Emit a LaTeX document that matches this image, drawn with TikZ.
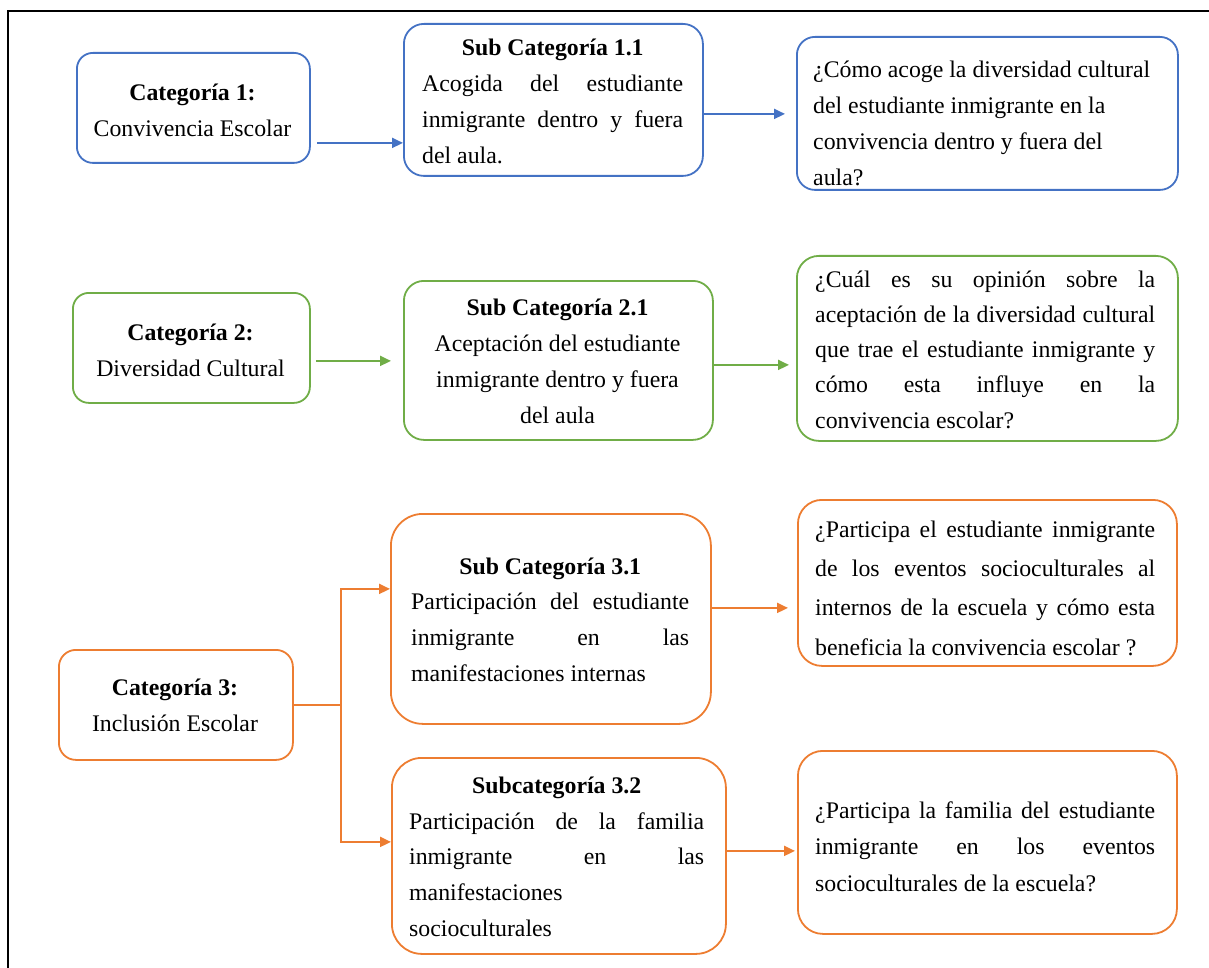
\documentclass[tikz,border=0pt]{standalone}
\usepackage{fontspec}
\setmainfont{Liberation Serif}
\usetikzlibrary{arrows.meta}
\definecolor{cblue}{RGB}{68,114,196}
\definecolor{cgreen}{RGB}{112,173,71}
\definecolor{corange}{RGB}{237,125,49}
\newcommand\fst{\rule{0pt}{17pt}}
\newcommand\jst{\spaceskip=0pt \xspaceskip=0pt \rightskip=0pt \leftskip=0pt \parfillskip=0pt plus 1fil\relax}
\newcommand\cnt{\spaceskip=0pt \xspaceskip=0pt \centering}
\newcommand\rgd{\spaceskip=0pt \xspaceskip=0pt \raggedright}
\hbadness=10000
\hyphenpenalty=10000
\exhyphenpenalty=10000
\begin{document}
\begin{tikzpicture}[x=1pt,y=-1pt,
  box/.style={draw, line width=1.8pt, rounded corners=#1, inner sep=0pt, anchor=north west},
  box/.default=18pt,
  txt/.style={inner sep=0pt, anchor=north west, text width=#1},
  fnt/.style={font=\fontsize{23.8}{#1}\selectfont},
  arr/.style={line width=2pt, -{Triangle[length=11pt,width=10pt]}},
  lin/.style={line width=2pt}
]
\useasboundingbox (0,0) rectangle (1209,968);
% frame
\draw[line width=2.5pt] (8,968) -- (8,11) -- (1209,11);

% ---------- row 1 ----------
\node[box=16pt, draw=cblue, minimum width=233pt, minimum height=110pt] (c1) at (76,52) {};
\node[box=20pt, draw=cblue, minimum width=299pt, minimum height=152pt] (s11) at (403,23) {};
\node[box=18pt, draw=cblue, minimum width=381pt, minimum height=153pt] (q1) at (796,36) {};

\node[txt=220pt, fnt=36, anchor=north] (c1t) at (192.5,83) {\cnt\fst\textbf{Categoría 1:}\\Convivencia Escolar\par};
\node[txt=261pt, fnt=36] (s11t) at (422,38) {{\cnt\fst\bfseries Sub Categoría 1.1\par}\jst Acogida del estudiante\linebreak inmigrante dentro y fuera\linebreak del aula.\par};
\node[txt=350pt, fnt=36] (q1t) at (813,60) {\rgd\fst¿Cómo acoge la diversidad cultural\\del estudiante inmigrante en la\\convivencia dentro y fuera del\\aula?\par};

\coordinate (a1) at ([xshift=6pt,yshift=-35pt]c1.east);
\draw[arr, cblue] (a1) -- (a1 -| s11.west);
\coordinate (a2) at ([yshift=-14pt]s11.east);
\coordinate (a2e) at ([xshift=-11pt]q1.west);
\draw[arr, cblue] (a2) -- (a2 -| a2e);

% ---------- row 2 ----------
\node[box=16pt, draw=cgreen, minimum width=237pt, minimum height=110pt] (c2) at (72,292) {};
\node[box=20pt, draw=cgreen, minimum width=309pt, minimum height=159pt] (s21) at (403,280) {};
\node[box=22pt, draw=cgreen, minimum width=381pt, minimum height=185pt] (q2) at (796,255) {};

\node[txt=220pt, fnt=36, anchor=north] (c2t) at (190.5,323) {\cnt\fst\textbf{Categoría 2:}\\Diversidad Cultural\par};
\node[txt=290pt, fnt=36, anchor=north] (s21t) at (557.5,298) {\cnt\fst\textbf{Sub Categoría 2.1}\\Aceptación del estudiante\\inmigrante dentro y fuera\\del aula\par};
\node[txt=340pt, fnt=35.25] (q2t) at (815,270) {\jst\fst¿Cuál es su opinión sobre la\linebreak aceptación de la diversidad cultural\linebreak que trae el estudiante inmigrante y\linebreak cómo esta influye en la\linebreak convivencia escolar?\par};

\coordinate (a3) at ([xshift=5pt,yshift=-13pt]c2.east);
\coordinate (a3e) at ([xshift=-12pt]s21.west);
\draw[arr, cgreen] (a3) -- (a3 -| a3e);
\coordinate (a4) at ([yshift=-4.5pt]s21.east);
\coordinate (a4e) at ([xshift=-7pt]q2.west);
\draw[arr, cgreen] (a4) -- (a4 -| a4e);

% ---------- row 3 ----------
\node[box=17pt, draw=corange, minimum width=234pt, minimum height=110pt] (c3) at (58,649) {};
\node[box=32pt, draw=corange, minimum width=320pt, minimum height=210pt] (s31) at (390,513) {};
\node[box=30pt, draw=corange, minimum width=334pt, minimum height=196pt] (s32) at (391,757) {};
\node[box=24pt, draw=corange, minimum width=379pt, minimum height=166pt] (q31) at (797,499) {};
\node[box=25pt, draw=corange, minimum width=379pt, minimum height=183pt] (q32) at (797,750) {};

\node[txt=220pt, fnt=36, anchor=north] (c3t) at (175,678) {\cnt\fst\textbf{Categoría 3:}\\Inclusión Escolar\par};
\node[txt=278pt, fnt=35.7] (s31t) at (411,557) {{\cnt\fst\bfseries Sub Categoría 3.1\par}\jst Participación del estudiante\linebreak inmigrante en las\linebreak manifestaciones internas\par};
\node[txt=295pt, fnt=35.8] (s32t) at (409,776) {{\cnt\fst\bfseries Subcategoría 3.2\par}\jst Participación de la familia\linebreak inmigrante en las\linebreak manifestaciones\\socioculturales\par};
\node[txt=340pt, fnt=39.3] (q31t) at (815,520) {\jst\fst¿Participa el estudiante inmigrante\linebreak de los eventos socioculturales al\linebreak internos de la escuela y cómo esta\linebreak beneficia la convivencia escolar ?\par};
\node[txt=340pt, fnt=36.5] (q32t) at (815,801) {\jst\fst¿Participa la familia del estudiante\linebreak inmigrante en los eventos\linebreak socioculturales de la escuela?\par};

\coordinate (j) at ([xshift=47pt]c3.east);
\coordinate (b1) at ([yshift=30pt]s31.west);
\coordinate (b2) at ([yshift=14pt]s32.west);
\draw[lin, corange] (c3.east) -- (j);
\draw[arr, corange] (j) |- (b1);
\draw[arr, corange] (j) |- (b2);

\coordinate (a5) at ([yshift=11pt]s31.east);
\coordinate (a5e) at ([xshift=-9pt]q31.west);
\draw[arr, corange] (a5) -- (a5 -| a5e);
\coordinate (a6) at ([yshift=5pt]s32.east);
\coordinate (a6e) at ([xshift=-2pt]q32.west);
\draw[arr, corange] (a6) -- (a6 -| a6e);
\end{tikzpicture}
\end{document}
